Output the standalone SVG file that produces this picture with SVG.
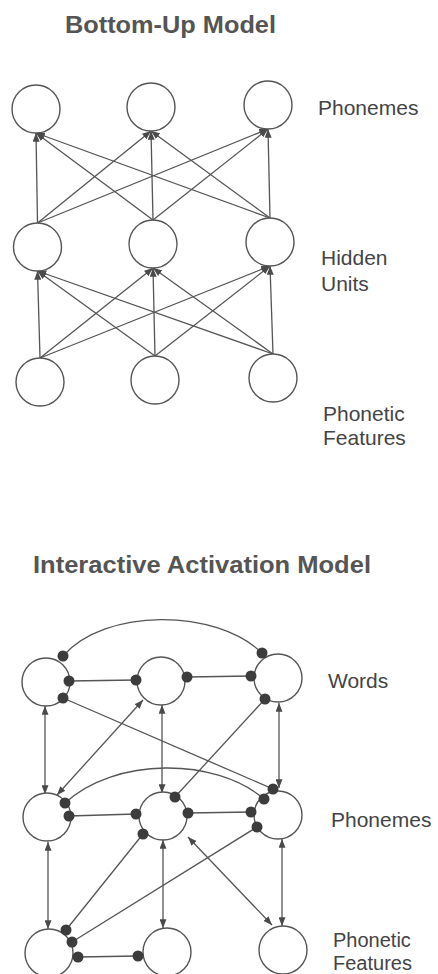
<svg xmlns="http://www.w3.org/2000/svg" width="438" height="974" viewBox="0 0 438 974">
<defs>
<marker id="ah" viewBox="0 0 10 8" refX="10" refY="4" markerWidth="9" markerHeight="7" markerUnits="userSpaceOnUse" orient="auto-start-reverse">
<path d="M0,0 L10,4 L0,8 z" fill="#4a4a4a"/>
</marker>
<style>
.node{fill:#fff;stroke:#555;stroke-width:1.4}
.edge{fill:none;stroke:#555;stroke-width:1.3}
.arr{marker-end:url(#ah)}
.dbl{marker-start:url(#ah);marker-end:url(#ah)}
.dot{fill:#3c3c3c}
.lbl{font-family:"Liberation Sans",Arial,sans-serif;font-size:21px;fill:#444}
.sm{font-size:20px}
.ttl{font-family:"Liberation Sans",Arial,sans-serif;font-size:24px;font-weight:bold;fill:#555}
</style>
</defs>
<rect width="438" height="974" fill="#fff"/>

<text class="ttl" x="65" y="33" textLength="211" lengthAdjust="spacingAndGlyphs">Bottom-Up Model</text>
<text class="ttl" x="33" y="573" textLength="338" lengthAdjust="spacingAndGlyphs">Interactive Activation Model</text>

<g id="labels">
<text class="lbl" x="318" y="115">Phonemes</text>
<text class="lbl" x="321" y="265">Hidden</text>
<text class="lbl" x="321" y="291">Units</text>
<text class="lbl" x="323" y="421">Phonetic</text>
<text class="lbl" x="323" y="445">Features</text>
<text class="lbl" x="328" y="688">Words</text>
<text class="lbl" x="331" y="827">Phonemes</text>
<text class="lbl sm" x="333" y="947">Phonetic</text>
<text class="lbl sm" x="333" y="969.5">Features</text>
</g>

<g id="connectors">
<!-- bottom-up: hidden -> phonemes -->
<line class="edge arr" x1="37.5" y1="223" x2="36" y2="133"/>
<line class="edge arr" x1="37.5" y1="223" x2="151" y2="131"/>
<line class="edge arr" x1="37.5" y1="223" x2="268" y2="129"/>
<line class="edge arr" x1="153" y1="220" x2="36" y2="133"/>
<line class="edge arr" x1="153" y1="220" x2="151" y2="131"/>
<line class="edge arr" x1="153" y1="220" x2="268" y2="129"/>
<line class="edge arr" x1="270" y1="218" x2="36" y2="133"/>
<line class="edge arr" x1="270" y1="218" x2="151" y2="131"/>
<line class="edge arr" x1="270" y1="218" x2="268" y2="129"/>
<!-- bottom-up: features -> hidden -->
<line class="edge arr" x1="40" y1="358" x2="37.5" y2="271"/>
<line class="edge arr" x1="40" y1="358" x2="153" y2="268"/>
<line class="edge arr" x1="40" y1="358" x2="270" y2="266"/>
<line class="edge arr" x1="155" y1="356" x2="37.5" y2="271"/>
<line class="edge arr" x1="155" y1="356" x2="153" y2="268"/>
<line class="edge arr" x1="155" y1="356" x2="270" y2="266"/>
<line class="edge arr" x1="273" y1="354" x2="37.5" y2="271"/>
<line class="edge arr" x1="273" y1="354" x2="153" y2="268"/>
<line class="edge arr" x1="273" y1="354" x2="270" y2="266"/>

<!-- interactive: words level -->
<line class="edge" x1="69" y1="681" x2="136" y2="680"/>
<line class="edge" x1="187" y1="677" x2="251" y2="676"/>
<path class="edge" d="M63,656 C105,608 215,608 262,653"/>
<line class="edge" x1="63" y1="698" x2="273" y2="789"/>
<line class="edge" x1="265" y1="699" x2="175" y2="797"/>
<line class="edge dbl" x1="143" y1="700" x2="57" y2="795"/>
<line class="edge dbl" x1="45" y1="706" x2="45" y2="794"/>
<line class="edge dbl" x1="162" y1="705" x2="162" y2="793"/>
<line class="edge dbl" x1="279" y1="703" x2="279" y2="788"/>
<!-- phonemes level -->
<line class="edge" x1="69" y1="816" x2="136" y2="814"/>
<line class="edge" x1="188" y1="813" x2="251" y2="812"/>
<path class="edge" d="M65,803 C115,757 215,757 264,799"/>
<line class="edge" x1="143" y1="834" x2="66" y2="930"/>
<line class="edge" x1="257" y1="827" x2="72" y2="942"/>
<line class="edge dbl" x1="188" y1="837" x2="272" y2="925"/>
<line class="edge dbl" x1="48" y1="842" x2="48" y2="929"/>
<line class="edge dbl" x1="163" y1="840" x2="163" y2="928"/>
<line class="edge dbl" x1="282" y1="839" x2="282" y2="926"/>
<!-- features level -->
<line class="edge" x1="78" y1="957" x2="138" y2="956"/>
</g>

<g id="bu-phon1"><circle class="node" cx="36" cy="109" r="24"/></g>
<g id="bu-phon2"><circle class="node" cx="151" cy="107" r="24"/></g>
<g id="bu-phon3"><circle class="node" cx="268" cy="105" r="24"/></g>
<g id="bu-hid1"><circle class="node" cx="37.5" cy="247" r="24"/></g>
<g id="bu-hid2"><circle class="node" cx="153" cy="244" r="24"/></g>
<g id="bu-hid3"><circle class="node" cx="270" cy="242" r="24"/></g>
<g id="bu-feat1"><circle class="node" cx="40" cy="382" r="24"/></g>
<g id="bu-feat2"><circle class="node" cx="155" cy="380" r="24"/></g>
<g id="bu-feat3"><circle class="node" cx="273" cy="378" r="24"/></g>

<g id="ia-word1"><circle class="node" cx="46" cy="682" r="24"/></g>
<g id="ia-word2"><circle class="node" cx="161" cy="681" r="24"/></g>
<g id="ia-word3"><circle class="node" cx="278" cy="678" r="24"/></g>
<g id="ia-phon1"><circle class="node" cx="47" cy="817" r="24"/></g>
<g id="ia-phon2"><circle class="node" cx="163" cy="816" r="24"/></g>
<g id="ia-phon3"><circle class="node" cx="278" cy="815" r="24"/></g>
<g id="ia-feat1"><circle class="node" cx="49" cy="953" r="24"/></g>
<g id="ia-feat2"><circle class="node" cx="167" cy="952" r="24"/></g>
<g id="ia-feat3"><circle class="node" cx="283" cy="950" r="24"/></g>

<g id="dots">
<circle class="dot" cx="63" cy="656" r="5.5"/>
<circle class="dot" cx="69" cy="681" r="5.5"/>
<circle class="dot" cx="63" cy="698" r="5.5"/>
<circle class="dot" cx="136" cy="680" r="5.5"/>
<circle class="dot" cx="187" cy="677" r="5.5"/>
<circle class="dot" cx="262" cy="653" r="5.5"/>
<circle class="dot" cx="251" cy="676" r="5.5"/>
<circle class="dot" cx="265" cy="699" r="5.5"/>
<circle class="dot" cx="65" cy="803" r="5.5"/>
<circle class="dot" cx="69" cy="816" r="5.5"/>
<circle class="dot" cx="136" cy="814" r="5.5"/>
<circle class="dot" cx="175" cy="797" r="5.5"/>
<circle class="dot" cx="188" cy="813" r="5.5"/>
<circle class="dot" cx="143" cy="834" r="5.5"/>
<circle class="dot" cx="273" cy="789" r="5.5"/>
<circle class="dot" cx="264" cy="799" r="5.5"/>
<circle class="dot" cx="251" cy="812" r="5.5"/>
<circle class="dot" cx="257" cy="827" r="5.5"/>
<circle class="dot" cx="66" cy="930" r="5.5"/>
<circle class="dot" cx="72" cy="942" r="5.5"/>
<circle class="dot" cx="78" cy="957" r="5.5"/>
<circle class="dot" cx="138" cy="956" r="5.5"/>
</g>
</svg>
